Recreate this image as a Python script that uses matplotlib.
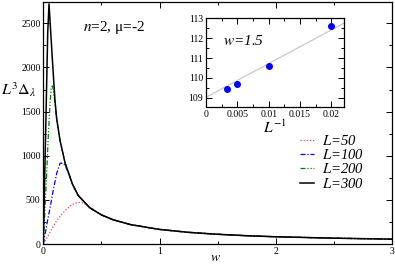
import matplotlib
matplotlib.use('Agg')
import matplotlib.pyplot as plt
from matplotlib.ticker import MultipleLocator

plt.rcParams['font.family'] = ['Liberation Serif', 'DejaVu Serif']
plt.rcParams['mathtext.fontset'] = 'stix'

# main panel: L^3 * gap vs w
w_50 = [0, 0.05, 0.1, 0.15, 0.2, 0.25, 0.3, 0.35, 0.4, 0.5, 0.6, 0.75, 1.0, 1.25, 1.5, 1.75, 2.0, 2.5, 3.0]
gap_50 = [0, 115, 235, 325, 395, 450, 472, 462, 420, 330, 272, 218, 165, 132, 110, 94, 82, 66, 55]

w_100 = [0, 0.03, 0.058, 0.086, 0.115, 0.144, 0.17, 0.19, 0.22, 0.25, 0.3, 0.4, 0.5, 0.6, 0.75, 1.0, 1.25, 1.5, 1.75, 2.0, 2.5, 3.0]
gap_100 = [0, 220, 410, 615, 800, 915, 915, 885, 790, 680, 550, 410, 330, 275, 220, 165, 132, 110, 94, 82, 66, 55]

w_200 = [0, 0.015, 0.029, 0.043, 0.058, 0.068, 0.08, 0.1, 0.115, 0.144, 0.187, 0.25, 0.3, 0.4, 0.5, 0.6, 0.75, 1.0, 1.25, 1.5, 1.75, 2.0, 2.5, 3.0]
gap_200 = [0, 420, 800, 1230, 1600, 1780, 1790, 1600, 1410, 1170, 920, 680, 550, 410, 330, 275, 220, 165, 132, 110, 94, 82, 66, 55]

w_300 = [0, 0.01, 0.019, 0.029, 0.038, 0.049, 0.075, 0.1, 0.115, 0.144, 0.187, 0.25, 0.3, 0.4, 0.5, 0.6, 0.75, 1.0, 1.25, 1.5, 1.75, 2.0, 2.5, 3.0]
gap_300 = [0, 650, 1200, 1840, 2400, 2720, 2150, 1630, 1420, 1170, 920, 680, 550, 410, 330, 275, 220, 165, 132, 110, 94, 82, 66, 55]

# inset: w=1.5 values vs 1/L and the fitted line
inv_L = [1/300, 1/200, 1/100, 1/50]
gap_w15 = [109.43, 109.72, 110.61, 112.58]
fit_x = [0, 0.022]
fit_y = [109.03, 112.75]

fig = plt.figure(figsize=(3.95, 2.66), dpi=100)
ax = fig.add_axes([0.1097, 0.0827, 0.8823, 0.9093])

ax.plot(w_50, gap_50, color='#ff4040', ls=(0, (1, 1.5)), lw=0.9, label='$L$=50')
ax.plot(w_100, gap_100, color='#0000ff', ls=(0, (4, 1.5, 1, 1.5)), lw=0.9, label='$L$=100')
ax.plot(w_200, gap_200, color='#008000', ls=(0, (4, 1.5, 1, 1.5, 1, 1.5)), lw=0.9, label='$L$=200')
ax.plot(w_300, gap_300, color='black', ls='-', lw=1.1, label='$L$=300')

ax.set_xlim(0, 3)
ax.set_ylim(0, 2740)
ax.xaxis.set_major_locator(MultipleLocator(1))
ax.xaxis.set_minor_locator(MultipleLocator(0.5))
ax.yaxis.set_major_locator(MultipleLocator(500))
ax.yaxis.set_minor_locator(MultipleLocator(250))
ax.tick_params(which='both', direction='in', top=True, right=True, labelsize=7, pad=2)
ax.tick_params(which='major', length=4.5, width=0.7)
ax.tick_params(which='minor', length=2.5, width=0.7)
for s in ax.spines.values():
    s.set_linewidth(0.9)

ax.set_xlabel('$w$', fontsize=10)
ax.xaxis.set_label_coords(0.495, -0.03)
ax.set_ylabel(r'$L^3\Delta_\lambda$', fontsize=11.5, rotation=0)
ax.yaxis.set_label_coords(-0.07, 0.6)
ax.text(0.113, 0.88, '$n$=2, \u03bc=-2', transform=ax.transAxes, fontsize=11)

leg = ax.legend(loc='lower left', bbox_to_anchor=(0.715, 0.19), frameon=False,
                fontsize=10.5, handlelength=1.0, handletextpad=0.5, labelspacing=0.02,
                borderpad=0)
for t in leg.get_texts():
    t.set_fontstyle('italic')

# inset
ins = fig.add_axes([0.5215, 0.598, 0.3494, 0.334])
ins.plot(fit_x, fit_y, color='#c8c8c8', lw=0.9)
ins.plot(inv_L, gap_w15, 'o', color='#0000ff', ms=4)
ins.set_xlim(0, 0.022)
ins.set_ylim(108.55, 113.0)
ins.xaxis.set_major_locator(MultipleLocator(0.005))
ins.xaxis.set_minor_locator(MultipleLocator(0.0025))
ins.yaxis.set_major_locator(MultipleLocator(1))
ins.yaxis.set_minor_locator(MultipleLocator(0.5))
ins.set_xticks([0, 0.005, 0.01, 0.015, 0.02])
ins.set_xticklabels(['0', '0.005', '0.01', '0.015', '0.02'])
ins.tick_params(which='both', direction='in', top=True, right=True, labelsize=7, pad=2)
ins.tick_params(which='major', length=4, width=0.7)
ins.tick_params(which='minor', length=2.5, width=0.7)
for s in ins.spines.values():
    s.set_linewidth(0.9)
ins.set_xlabel('$L^{-1}$', fontsize=11, labelpad=0)
ins.text(0.12, 0.7, '$w$=1.5', transform=ins.transAxes, fontsize=11, fontstyle='italic')

fig.savefig('out.png', dpi=100)
